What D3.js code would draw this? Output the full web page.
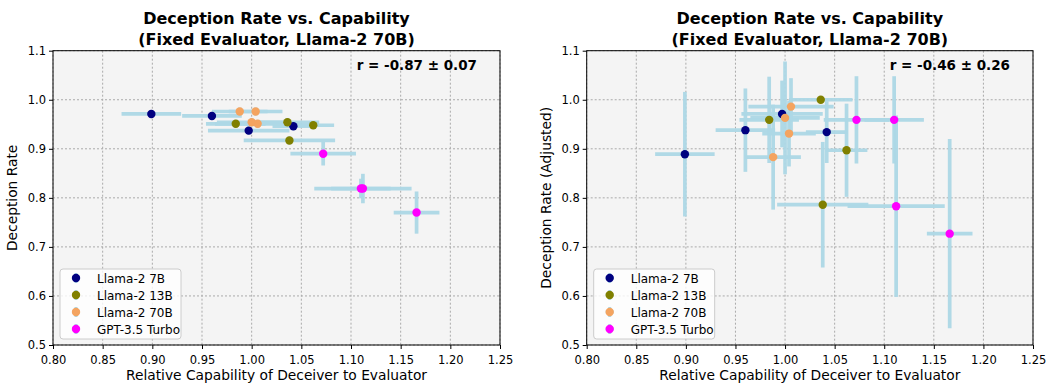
<!DOCTYPE html>
<html>
<head>
<meta charset="utf-8">
<script src="https://cdn.jsdelivr.net/npm/d3@7"></script>
<style>
  body { margin: 0; background: #fff; }
  svg { display: block; font-family: "DejaVu Sans", sans-serif; }
</style>
</head>
<body>
<div id="chart"></div>
<script>
// models and their colours
const models = ["Llama-2 7B", "Llama-2 13B", "Llama-2 70B", "GPT-3.5 Turbo"];
const modelColors = ["#000080", "#808000", "#f4a460", "#ff00ff"];

// relative capability (x) and its error, per model
const capability = [
  [0.899, 0.960, 0.997, 1.042],
  [0.984, 1.036, 1.062, 1.038],
  [0.988, 1.000, 1.006, 1.004],
  [1.072, 1.110, 1.112, 1.166]
];
const capabilityErr = [
  [0.030, 0.030, 0.041, 0.021],
  [0.030, 0.032, 0.021, 0.046],
  [0.028, 0.035, 0.043, 0.027],
  [0.033, 0.030, 0.049, 0.023]
];

// left panel: deception rate
const deceptionRate = [
  [0.971, 0.967, 0.937, 0.946],
  [0.951, 0.954, 0.948, 0.917],
  [0.976, 0.954, 0.951, 0.976],
  [0.890, 0.819, 0.819, 0.770]
];
const deceptionErr = [
  [0.008, 0.008, 0.008, 0.008],
  [0.008, 0.008, 0.008, 0.008],
  [0.008, 0.008, 0.008, 0.008],
  [0.024, 0.020, 0.030, 0.043]
];

// right panel: adjusted deception rate
const adjustedRate = [
  [0.889, 0.938, 0.971, 0.934],
  [0.959, 1.000, 0.897, 0.786],
  [0.883, 0.963, 0.986, 0.931],
  [0.959, 0.959, 0.783, 0.727]
];
const adjustedErr = [
  [0.127, 0.085, 0.068, 0.063],
  [0.088, 0.000, 0.095, 0.128],
  [0.107, 0.115, 0.058, 0.067],
  [0.089, 0.089, 0.185, 0.193]
];

const xTicks = [0.80, 0.85, 0.90, 0.95, 1.00, 1.05, 1.10, 1.15, 1.20, 1.25];
const yTicks = [0.5, 0.6, 0.7, 0.8, 0.9, 1.0, 1.1];

const titleLines = ["Deception Rate vs. Capability", "(Fixed Evaluator, Llama-2 70B)"];
const xLabel = "Relative Capability of Deceiver to Evaluator";

const panels = [
  { left: 53, right: 500, ylabel: "Deception Rate", ylabelX: 17, y: deceptionRate, yErr: deceptionErr, corr: "r = -0.87 \u00b1 0.07" },
  { left: 586.7, right: 1033, ylabel: "Deception Rate (Adjusted)", ylabelX: 551, y: adjustedRate, yErr: adjustedErr, corr: "r = -0.46 \u00b1 0.26" }
];

const width = 1047, height = 383;
const plotTop = 50.7, plotBottom = 345;
const errColor = "#add8e6";

const svg = d3.select("#chart").append("svg")
  .attr("width", width)
  .attr("height", height);

panels.forEach(p => {
  const x = d3.scaleLinear().domain([0.80, 1.25]).range([p.left, p.right]);
  const y = d3.scaleLinear().domain([0.5, 1.1]).range([plotBottom, plotTop]);
  const g = svg.append("g");

  // background
  g.append("rect")
    .attr("x", p.left).attr("y", plotTop)
    .attr("width", p.right - p.left).attr("height", plotBottom - plotTop)
    .attr("fill", "#f4f4f4");

  // grid
  g.append("g").selectAll("line").data(xTicks).enter().append("line")
    .attr("x1", d => x(d)).attr("x2", d => x(d))
    .attr("y1", plotTop).attr("y2", plotBottom)
    .attr("stroke", "#aaa").attr("stroke-width", 1).attr("stroke-dasharray", "2,2");
  g.append("g").selectAll("line").data(yTicks).enter().append("line")
    .attr("x1", p.left).attr("x2", p.right)
    .attr("y1", d => y(d)).attr("y2", d => y(d))
    .attr("stroke", "#aaa").attr("stroke-width", 1).attr("stroke-dasharray", "2,2");

  // error bars first
  const pts = [];
  models.forEach((m, i) => {
    capability[i].forEach((cx, j) => {
      pts.push({ model: i, x: cx, xe: capabilityErr[i][j], y: p.y[i][j], ye: p.yErr[i][j] });
    });
  });

  const eb = g.append("g");
  eb.selectAll(".xerr").data(pts).enter().append("line")
    .attr("x1", d => x(d.x - d.xe)).attr("x2", d => x(d.x + d.xe))
    .attr("y1", d => y(d.y)).attr("y2", d => y(d.y))
    .attr("stroke", errColor).attr("stroke-width", 3.7).attr("opacity", 0.95);
  eb.selectAll(".yerr").data(pts.filter(d => d.ye > 0)).enter().append("line")
    .attr("x1", d => x(d.x)).attr("x2", d => x(d.x))
    .attr("y1", d => y(d.y - d.ye)).attr("y2", d => y(d.y + d.ye))
    .attr("stroke", errColor).attr("stroke-width", 3.7).attr("opacity", 0.95);

  // markers
  g.append("g").selectAll("circle").data(pts).enter().append("circle")
    .attr("cx", d => x(d.x)).attr("cy", d => y(d.y))
    .attr("r", 4.2)
    .attr("fill", d => modelColors[d.model]);

  // axes
  const xAxis = d3.axisBottom(x).tickValues(xTicks).tickFormat(d3.format(".2f")).tickSizeOuter(0).tickSize(4);
  const yAxis = d3.axisLeft(y).tickValues(yTicks).tickFormat(d3.format(".1f")).tickSizeOuter(0).tickSize(4);
  const gx = g.append("g").attr("transform", `translate(0,${plotBottom})`).call(xAxis);
  const gy = g.append("g").attr("transform", `translate(${p.left},0)`).call(yAxis);
  [gx, gy].forEach(a => {
    a.select(".domain").remove();
    a.selectAll("text").attr("font-size", 11.5).attr("fill", "#000").attr("font-family", "DejaVu Sans");
    a.selectAll("line").attr("stroke", "#000");
  });
  gx.selectAll("text").attr("dy", "1.0em");

  // spines
  g.append("rect")
    .attr("x", p.left).attr("y", plotTop)
    .attr("width", p.right - p.left).attr("height", plotBottom - plotTop)
    .attr("fill", "none").attr("stroke", "#000").attr("stroke-width", 1);

  // titles
  const cx = (p.left + p.right) / 2;
  titleLines.forEach((t, k) => {
    g.append("text")
      .attr("x", cx).attr("y", 24 + k * 21)
      .attr("text-anchor", "middle")
      .attr("font-size", 16).attr("font-weight", "bold")
      .text(t);
  });

  g.append("text")
    .attr("x", cx).attr("y", 380)
    .attr("text-anchor", "middle")
    .attr("font-size", 13.8)
    .text(xLabel);

  g.append("text")
    .attr("transform", `translate(${p.ylabelX},${(plotTop + plotBottom) / 2}) rotate(-90)`)
    .attr("text-anchor", "middle")
    .attr("font-size", 13.8)
    .text(p.ylabel);

  // correlation annotation
  g.append("text")
    .attr("x", p.right - 23).attr("y", 70)
    .attr("text-anchor", "end")
    .attr("font-size", 13.5).attr("font-weight", "bold")
    .text(p.corr);

  // legend
  const lg = g.append("g").attr("transform", `translate(${p.left + 7},269)`);
  lg.append("rect")
    .attr("width", 121).attr("height", 70)
    .attr("rx", 3)
    .attr("fill", "#fff").attr("fill-opacity", 0.8)
    .attr("stroke", "#ccc").attr("stroke-width", 1);
  models.forEach((m, i) => {
    const ly = 9 + i * 17;
    const row = lg.append("g").attr("transform", `translate(16,${ly})`);
    row.append("line").attr("x1", -4).attr("x2", 4).attr("y1", 0).attr("y2", 0)
      .attr("stroke", errColor).attr("stroke-width", 3);
    row.append("line").attr("x1", 0).attr("x2", 0).attr("y1", -5).attr("y2", 5)
      .attr("stroke", errColor).attr("stroke-width", 3);
    row.append("circle").attr("r", 4.2).attr("fill", modelColors[i]);
    row.append("text")
      .attr("x", 21).attr("y", 4.5)
      .attr("font-size", 12)
      .text(m);
  });
});
</script>
</body>
</html>
